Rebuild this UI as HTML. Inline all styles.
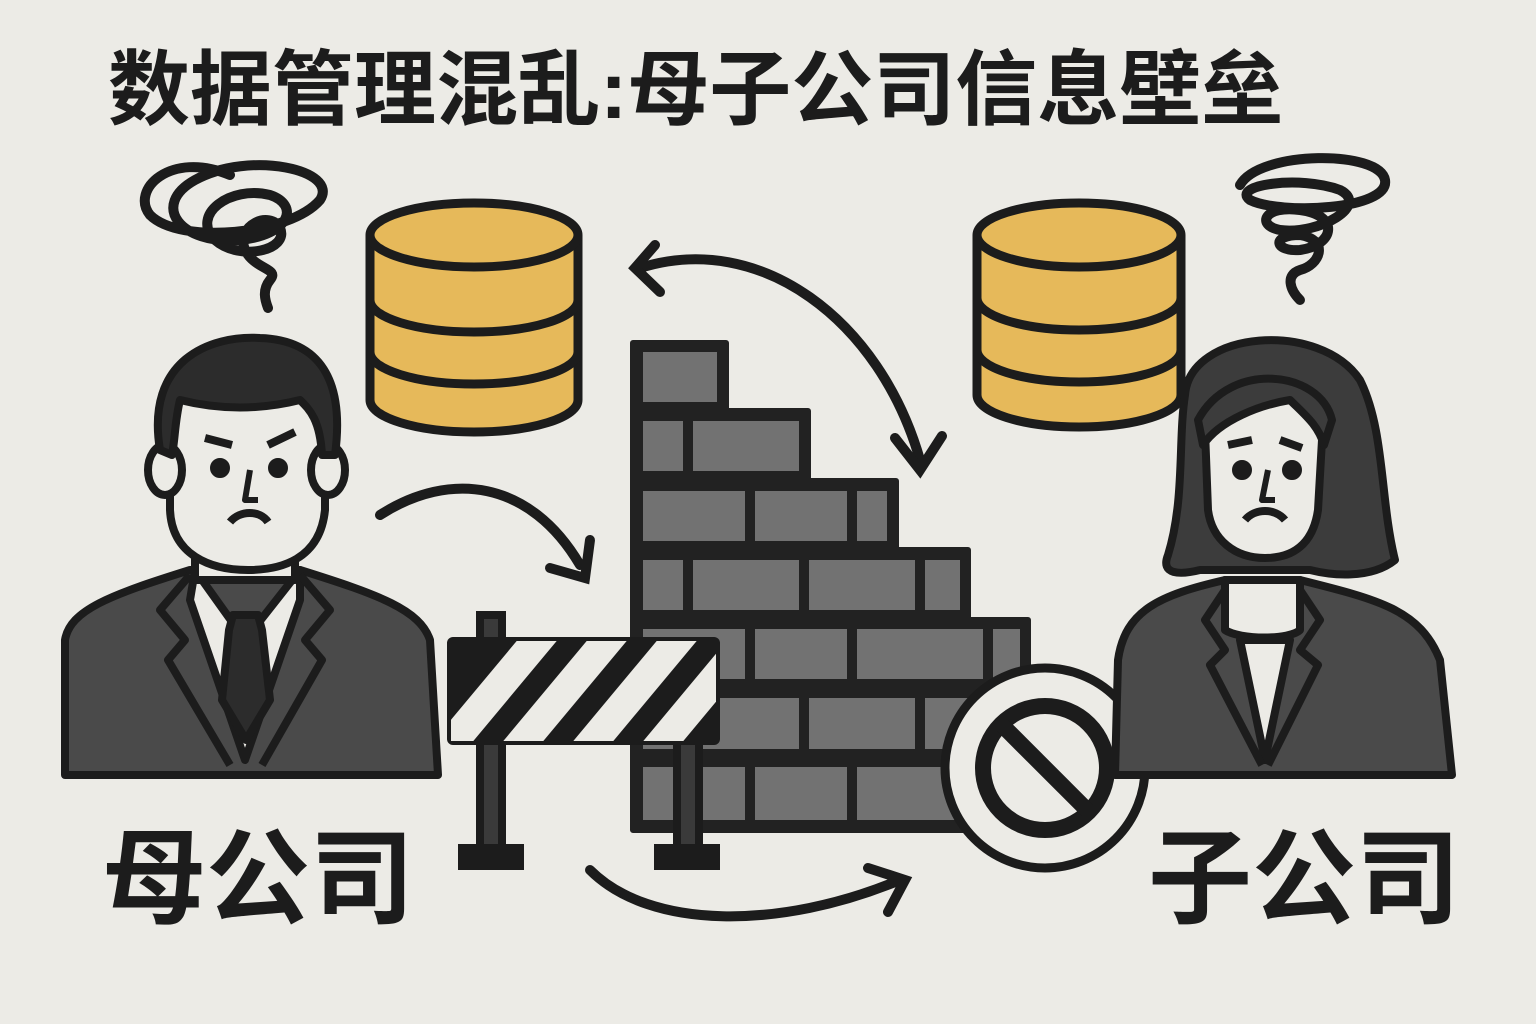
<!DOCTYPE html>
<html><head><meta charset="utf-8"><style>
html,body{margin:0;padding:0;background:#ecebe6;}
svg{display:block}
text{font-family:"Liberation Sans","Noto Sans CJK SC",sans-serif;font-weight:bold;fill:#1c1c1c}
</style></head><body>
<svg width="1536" height="1024" viewBox="0 0 1536 1024" xmlns="http://www.w3.org/2000/svg">
<rect width="1536" height="1024" fill="#ecebe6"/>
<text x="108" y="118" font-size="82">数据管理混乱:母子公司信息壁垒</text>
<text x="102" y="915" font-size="104">母公司</text>
<text x="1148" y="915" font-size="104">子公司</text>

<g fill="none" stroke="#1c1c1c" stroke-width="10" stroke-linecap="round">
<path d="M230 175 C170 150 130 190 150 215 C180 245 290 235 320 200 C340 170 250 150 195 180 C150 205 180 245 240 240 C290 235 300 205 270 195 C230 185 190 215 215 240 C240 262 290 250 280 228 C270 210 235 225 245 250 C255 270 280 268 270 280 C262 290 265 300 268 308"/>
<path d="M1240 185 C1260 150 1380 150 1385 180 C1390 210 1280 215 1250 200 C1230 185 1300 175 1340 190 C1370 205 1320 235 1280 230 C1255 225 1265 205 1300 210 C1340 215 1335 245 1300 250 C1275 252 1270 235 1300 235 C1330 240 1320 265 1300 270 C1285 275 1290 290 1300 300"/>
<path d="M640 268 C760 230 880 320 920 460"/>
<path d="M655 245 L635 268 L660 292"/>
<path d="M895 438 L920 470 L942 436"/>
<path d="M380 515 C450 470 530 480 580 565"/>
<path d="M550 568 L585 578 L590 540"/>
<path d="M590 870 C650 930 780 930 900 880"/>
<path d="M868 868 L905 880 L888 912"/>
</g>

<g stroke="#1c1c1c" stroke-width="9" fill="#e6b95a">
<path d="M370 235 L370 400 A104 32 0 0 0 578 400 L578 235"/>
<path d="M370 300 A104 32 0 0 0 578 300 M370 352 A104 32 0 0 0 578 352" fill="none"/>
<ellipse cx="474" cy="235" rx="104" ry="32"/>
<path d="M977 235 L977 395 A102 32 0 0 0 1181 395 L1181 235"/>
<path d="M977 298 A102 32 0 0 0 1181 298 M977 350 A102 32 0 0 0 1181 350" fill="none"/>
<ellipse cx="1079" cy="235" rx="102" ry="32"/>
</g>

<path d="M633 343 H726 V411 H808 V481 H896 V550 H968 V620 H1028 V700 H1000 V830 H633 Z" fill="#222" stroke="#222" stroke-width="6" stroke-linejoin="round"/>
<g fill="#727272">
<rect x="643" y="352" width="74" height="50"/>
<rect x="643" y="421" width="40" height="50"/><rect x="693" y="421" width="106" height="50"/>
<rect x="643" y="491" width="102" height="50"/><rect x="755" y="491" width="92" height="50"/><rect x="857" y="491" width="30" height="50"/>
<rect x="643" y="560" width="40" height="50"/><rect x="693" y="560" width="106" height="50"/><rect x="809" y="560" width="106" height="50"/><rect x="925" y="560" width="35" height="50"/>
<rect x="643" y="629" width="102" height="50"/><rect x="755" y="629" width="92" height="50"/><rect x="857" y="629" width="126" height="50"/><rect x="993" y="629" width="27" height="50"/>
<rect x="643" y="698" width="156" height="51"/><rect x="809" y="698" width="106" height="51"/><rect x="925" y="698" width="60" height="51"/>
<rect x="643" y="767" width="40" height="53"/><rect x="693" y="767" width="52" height="53"/><rect x="755" y="767" width="92" height="53"/><rect x="857" y="767" width="100" height="53"/>
</g>

<g stroke="#1c1c1c" stroke-width="8">
<rect x="480" y="615" width="22" height="235" fill="#3a3a3a"/>
<rect x="677" y="740" width="22" height="110" fill="#3a3a3a"/>
<rect x="462" y="848" width="58" height="18" fill="#1c1c1c"/>
<rect x="658" y="848" width="58" height="18" fill="#1c1c1c"/>
</g>
<clipPath id="bc"><rect x="451" y="641" width="265" height="100"/></clipPath>
<rect x="447" y="637" width="273" height="108" rx="6" fill="#1c1c1c"/>
<g clip-path="url(#bc)" fill="#ecebe6">
<polygon points="430,745 470,745 560,637 520,637"/>
<polygon points="500,745 540,745 630,637 590,637"/>
<polygon points="570,745 610,745 700,637 660,637"/>
<polygon points="640,745 680,745 770,637 730,637"/>
</g>

<circle cx="1045" cy="768" r="100" fill="#ecebe6" stroke="#1c1c1c" stroke-width="9"/>
<circle cx="1045" cy="768" r="62" fill="none" stroke="#1c1c1c" stroke-width="16"/>
<line x1="1003" y1="726" x2="1087" y2="810" stroke="#1c1c1c" stroke-width="16"/>

<g stroke="#1c1c1c" stroke-width="8" stroke-linejoin="round">
<path d="M65 775 L65 640 C70 610 110 595 190 570 L300 570 C380 595 420 610 430 640 L438 775 Z" fill="#4a4a4a"/>
<path d="M195 570 L245 640 L300 570 L300 600 L245 760 L190 600 Z" fill="#ecebe6"/>
<path d="M233 615 L258 615 L262 630 L270 700 L246 740 L222 700 L229 630 Z" fill="#2c2c2c"/>
<path d="M190 575 L160 610 L185 640 L168 660 L230 765 M300 575 L330 610 L305 640 L322 660 L262 765" fill="none"/>
<rect x="195" y="530" width="100" height="50" fill="#ecebe6"/>
<path d="M170 420 C170 370 320 370 325 420 L325 510 C320 560 280 570 248 570 C210 570 172 555 170 510 Z" fill="#ecebe6"/>
<ellipse cx="165" cy="470" rx="17" ry="25" fill="#ecebe6"/>
<ellipse cx="328" cy="470" rx="17" ry="25" fill="#ecebe6"/>
<path d="M160 450 C145 360 210 335 260 338 C320 340 345 380 335 455 L322 455 C320 420 310 410 300 400 C260 410 220 410 180 400 C175 420 175 440 172 455 Z" fill="#2c2c2c"/>
<path d="M205 438 L232 445 M268 445 L295 432 M230 522 C240 510 260 510 268 522" fill="none"/>
<path d="M250 470 L245 500 L258 500" fill="none" stroke-width="6"/>
<circle cx="220" cy="468" r="6" fill="#1c1c1c"/><circle cx="278" cy="468" r="6" fill="#1c1c1c"/>
</g>

<g stroke="#1c1c1c" stroke-width="8" stroke-linejoin="round">
<path d="M1185 395 C1190 330 1320 320 1360 380 C1385 430 1380 500 1395 560 C1370 580 1330 575 1310 570 L1200 570 C1180 575 1160 575 1168 555 C1185 500 1178 440 1185 395 Z" fill="#3c3c3c"/>
<path d="M1115 775 L1118 660 C1125 610 1160 595 1225 580 L1300 580 C1380 600 1420 610 1440 660 L1452 775 Z" fill="#4a4a4a"/>
<path d="M1225 580 L1225 630 C1240 640 1290 640 1300 630 L1300 580 Z" fill="#ecebe6"/>
<path d="M1240 640 L1265 760 L1290 640 Z" fill="#ecebe6"/>
<path d="M1225 590 L1205 620 L1225 650 L1210 665 L1262 765 M1300 590 L1320 620 L1300 650 L1318 665 L1268 765" fill="none"/>
<path d="M1205 430 C1200 400 1230 390 1260 390 C1300 392 1325 410 1322 440 L1318 510 C1313 545 1292 558 1265 558 C1235 558 1212 540 1208 510 Z" fill="#ecebe6"/>
<path d="M1203 445 C1220 420 1260 405 1290 400 C1305 415 1318 425 1324 445 L1332 420 C1320 370 1230 360 1198 420 Z" fill="#3c3c3c"/>
<path d="M1228 445 L1252 440 M1280 440 L1302 448 M1245 520 C1255 508 1275 508 1285 520" fill="none"/>
<path d="M1268 470 L1262 500 L1275 500" fill="none" stroke-width="6"/>
<circle cx="1242" cy="470" r="6" fill="#1c1c1c"/><circle cx="1292" cy="470" r="6" fill="#1c1c1c"/>
</g>
</svg>
</body></html>
